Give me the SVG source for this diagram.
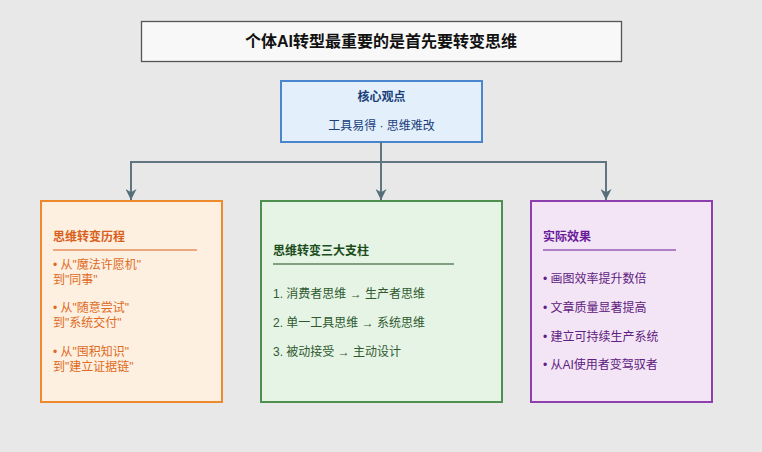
<svg xmlns="http://www.w3.org/2000/svg" width="762" height="452" viewBox="0 0 762 452">
<defs>
<marker id="arr" viewBox="0 0 10 10" refX="10" refY="5" markerWidth="11" markerHeight="11" markerUnits="userSpaceOnUse" orient="auto">
<path d="M0,0 L10,5 L0,10 L3,5 Z" fill="#546e7a"/>
</marker>
<style>
text{font-family:"Liberation Sans","Noto Sans CJK SC",sans-serif;font-size:12px}
.b{font-weight:bold}
.conn{stroke:#5f7580;stroke-width:2;fill:none}
</style>
</defs>
<rect width="762" height="452" fill="#e8e8e8"/>
<g id="title">
<rect x="141.5" y="21.5" width="480" height="40" fill="#f8f8f8" stroke="#555" stroke-width="1.3"/>
<text x="381" y="47" text-anchor="middle" class="b" style="font-size:16px" fill="#111">个体AI转型最重要的是首先要转变思维</text>
</g>
<g id="core">
<rect x="281" y="81" width="201" height="61" fill="#e3f0fc" stroke="#4a86d0" stroke-width="2"/>
<text x="381.5" y="101" text-anchor="middle" class="b" fill="#1a3f7a">核心观点</text>
<text x="381.5" y="130" text-anchor="middle" fill="#1a3f7a">工具易得 · 思维难改</text>
</g>
<g id="connectors">
<path class="conn" d="M381,142 V162"/>
<path class="conn" d="M131,162 H606"/>
<path class="conn" d="M131,161 V200" marker-end="url(#arr)"/>
<path class="conn" d="M381,161 V200" marker-end="url(#arr)"/>
<path class="conn" d="M606,161 V200" marker-end="url(#arr)"/>
</g>
<g id="left">
<rect x="41" y="201" width="181" height="201" fill="#fdf0e1" stroke="#ee8a2e" stroke-width="2"/>
<text x="53" y="241" class="b" fill="#d9601a">思维转变历程</text>
<line x1="53" y1="250" x2="197" y2="250" stroke="#d9601a" stroke-width="1"/>
<g fill="#e06a1c">
<text x="53" y="269">• 从"魔法许愿机"</text>
<text x="53" y="283.5">到"同事"</text>
<text x="53" y="312">• 从"随意尝试"</text>
<text x="53" y="326.5">到"系统交付"</text>
<text x="53" y="356">• 从"囤积知识"</text>
<text x="53" y="370.5">到"建立证据链"</text>
</g>
</g>
<g id="middle">
<rect x="261" y="201" width="241" height="201" fill="#e6f4e6" stroke="#4f8f4f" stroke-width="2"/>
<text x="273" y="255" class="b" fill="#1b4d1b">思维转变三大支柱</text>
<line x1="273" y1="264" x2="454" y2="264" stroke="#1b4d1b" stroke-width="1"/>
<g fill="#2e5a2e">
<text x="273" y="298">1. 消费者思维 → 生产者思维</text>
<text x="273" y="327">2. 单一工具思维 → 系统思维</text>
<text x="273" y="356">3. 被动接受 → 主动设计</text>
</g>
</g>
<g id="right">
<rect x="531" y="201" width="181" height="201" fill="#f3e5f5" stroke="#8e3fae" stroke-width="2"/>
<text x="543" y="241" class="b" fill="#6a1b9a">实际效果</text>
<line x1="543" y1="250" x2="676" y2="250" stroke="#6a1b9a" stroke-width="1"/>
<g fill="#5e2180">
<text x="543" y="283">• 画图效率提升数倍</text>
<text x="543" y="312">• 文章质量显著提高</text>
<text x="543" y="341">• 建立可持续生产系统</text>
<text x="543" y="369">• 从AI使用者变驾驭者</text>
</g>
</g>
</svg>
